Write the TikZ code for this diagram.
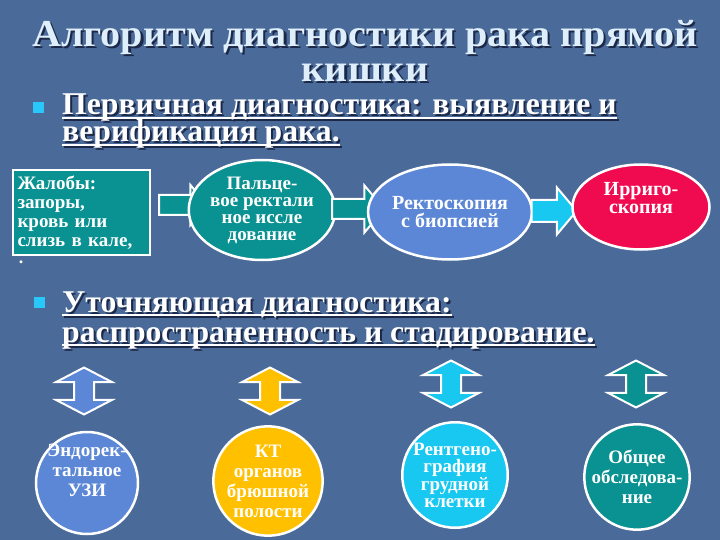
\documentclass[tikz,border=0pt]{standalone}
\usepackage{fontspec}
\setmainfont{Liberation Serif}
\usetikzlibrary{shapes.geometric,shapes.arrows}

\definecolor{bgblue}{RGB}{74,106,153}
\definecolor{titlewhite}{RGB}{222,238,250}
\definecolor{shade}{RGB}{28,40,72}
\definecolor{tealfill}{RGB}{10,145,145}
\definecolor{bluefill}{RGB}{92,135,214}
\definecolor{cyanfill}{RGB}{25,200,240}
\definecolor{crimsonfill}{RGB}{240,10,80}
\definecolor{goldfill}{RGB}{255,192,0}
\definecolor{bulletcyan}{RGB}{40,200,250}

% underlined box and text with a dark drop shadow
\newcommand\ulbox[1]{\setbox0\hbox{#1}\rlap{\rule[-4pt]{\wd0}{1.8pt}}\box0}
\newcommand\shtext[1]{\leavevmode\rlap{\kern2pt\raisebox{-2pt}{\color{shade}#1}}#1}

\tikzset{
  outlined/.style={draw=white, line width=2.5pt, inner sep=0pt},
  oval/.style={outlined, ellipse, text=white, align=center,
    font=\bfseries\fontsize{20}{18}\selectfont},
  flowarrow/.style={single arrow, draw=white, line width=2pt,
    inner xsep=0pt, inner ysep=9pt, minimum height=48pt, minimum width=38pt,
    single arrow head extend=10pt, single arrow tip angle=100},
  bothways/.style={double arrow, draw=white, line width=2pt,
    inner xsep=0pt, inner ysep=9pt, rotate=90, minimum height=47pt,
    minimum width=54pt, double arrow head extend=18pt, double arrow tip angle=125},
  titletext/.style={text=titlewhite, inner sep=0pt, anchor=base,
    font=\bfseries\fontsize{38}{38}\selectfont},
  headtext/.style={text=white, inner sep=0pt, anchor=base west,
    font=\bfseries\fontsize{31.7}{32}\selectfont},
  bulletsq/.style={fill=bulletcyan, minimum size=11pt, inner sep=0pt}
}

\begin{document}
\begin{tikzpicture}[x=1pt,y=-1pt]
    \useasboundingbox (0,0) rectangle (720,540);
    \fill[bgblue] (0,0) rectangle (720,540);

    % title
    \node[titletext] (title1) at (365,47) {\scalebox{1.057}[1]{\shtext{Алгоритм диагностики рака прямой}}};
    \node[titletext] (title2) at (365,82) {\scalebox{1.057}[1]{\shtext{кишки}}};

    % first stage
    \node[bulletsq] (bullet1) at (38.5,107.5) {};
    \node[headtext] (head1a) at (62,115) {\shtext{\ulbox{Первичная диагностика: выявление и}}};
    \node[headtext] (head1b) at (62,142) {\shtext{\ulbox{верификация рака.}}};

    \node[outlined, fill=tealfill, minimum width=137pt, minimum height=85pt,
          text width=128pt, align=left, text=white,
          font=\bfseries\fontsize{19}{19}\selectfont] (complaints) at (81.5,212.5)
          {Жалобы:\\запоры,\\кровь или\\слизь в кале,};
    \node[text=white, font=\bfseries\fontsize{18}{18}\selectfont, inner sep=0pt] (dot) at (21,262) {.};

    \node[flowarrow, fill=tealfill] (arrow1) at (179,205) {};
    \node[oval, fill=tealfill, minimum width=111pt, minimum height=100pt,
          font=\bfseries\fontsize{19}{17}\selectfont] (palpation) at (262,210)
          {Пальце-\\вое ректали\\ное иссле\\дование};
    \node[flowarrow, fill=tealfill, minimum height=52pt, minimum width=45pt,
          single arrow head extend=13.5pt] (arrow2) at (354,209) {};
    \node[oval, fill=bluefill, minimum width=135pt, minimum height=95pt] (rectoscopy) at (450,212)
          {Ректоскопия\\с биопсией};
    \node[flowarrow, fill=cyanfill, minimum height=45pt, minimum width=45pt,
          inner ysep=10pt, single arrow head extend=12.5pt] (arrow3) at (549.5,211) {};
    \node[oval, fill=crimsonfill, minimum width=137pt, minimum height=85pt] (irrigo) at (641,207) {};
    \node[oval, draw=none, line width=0pt] (irrigotext) at ([yshift=9pt]irrigo.center) {Ирриго-\\скопия};

    % second stage
    \node[bulletsq] (bullet2) at (39,302.5) {};
    \node[headtext] (head2a) at (62,312) {\shtext{\ulbox{Уточняющая диагностика:}}};
    \node[headtext] (head2b) at (62,342) {\shtext{\ulbox{распространенность и стадирование.}}};

    \node[bothways, fill=bluefill] (updown1) at (84,391) {};
    \node[bothways, fill=goldfill] (updown2) at (270,391) {};
    \node[bothways, fill=cyanfill] (updown3) at (451,384) {};
    \node[bothways, fill=tealfill] (updown4) at (636,384) {};

    \node[oval, circle, fill=bluefill, minimum size=102pt] (uzi) at (87,483) {};
    \node[oval, draw=none, line width=0pt, font=\bfseries\fontsize{19}{20}\selectfont] (uzitext)
          at ([yshift=13pt]uzi.center) {Эндорек-\\тальное\\УЗИ};
    \node[oval, circle, fill=goldfill, minimum size=98pt,
          font=\bfseries\fontsize{19}{20}\selectfont] (ct) at (268,481)
          {КТ\\органов\\брюшной\\полости};
    \node[oval, circle, fill=cyanfill, minimum size=104pt,
          font=\bfseries\fontsize{19}{17}\selectfont] (xray) at (455,475)
          {Рентгено-\\графия\\грудной\\клетки};
    \node[oval, circle, fill=tealfill, minimum size=100pt,
          font=\bfseries\fontsize{19}{20}\selectfont] (exam) at (637,477)
          {Общее\\обследова-\\ние};
\end{tikzpicture}
\end{document}
